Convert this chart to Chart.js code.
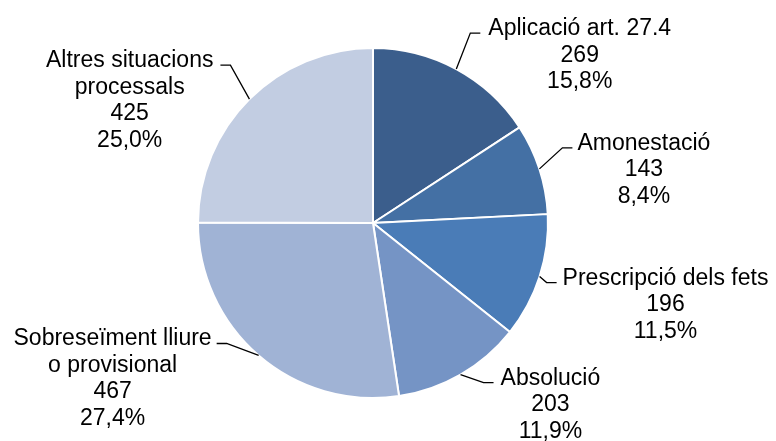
<!DOCTYPE html>
<html>
<head>
<meta charset="utf-8">
<script src="https://cdn.jsdelivr.net/npm/chart.js@4.4.1/dist/chart.umd.min.js"></script>
<style>
  html, body { margin: 0; padding: 0; background: #ffffff; }
  #wrap { width: 776px; height: 441px; position: relative; }
</style>
</head>
<body>
<div id="wrap"><canvas id="c" width="776" height="441"></canvas></div>
<script>
// ---- Data ----
const categories = [
  "Aplicació art. 27.4",
  "Amonestació",
  "Prescripció dels fets",
  "Absolució",
  "Sobreseïment lliure\no provisional",
  "Altres situacions\nprocessals"
];
const values = [269, 143, 196, 203, 467, 425];

// ---- Styles / layout (not data) ----
const sliceColors = ['#3b5e8c', '#4470a4', '#4a7cb7', '#7594c5', '#a0b3d5', '#c2cde2'];
// leader elbow offset from the arc anchor, and side of label
const leaderLayout = [
  { dx: 14, dy: -36, side: 1, gap: 8 },
  { dx: 23, dy: -21, side: 1, gap: 5 },
  { dx: 7,  dy: 6,   side: 1, gap: 6 },
  { dx: 23, dy: 8,   side: 1, gap: 7 },
  { dx: -32, dy: -12, side: -1, gap: 5 },
  { dx: -19, dy: -34, side: -1, gap: 7 }
];
const FONT = '23px "Liberation Sans", Arial, sans-serif';
const LINE_H = 26.5;

const total = values.reduce((a, b) => a + b, 0);

const labelPlugin = {
  id: 'outLabels',
  afterDraw(chart) {
    const ctx = chart.ctx;
    const meta = chart.getDatasetMeta(0);
    ctx.save();
    ctx.font = FONT;
    ctx.fillStyle = '#000';
    ctx.strokeStyle = '#000';
    ctx.lineWidth = 1.3;
    meta.data.forEach((arc, i) => {
      const p = arc.getProps(['x', 'y', 'startAngle', 'endAngle', 'outerRadius'], true);
      const mid = (p.startAngle + p.endAngle) / 2;
      const ax = p.x + Math.cos(mid) * p.outerRadius;
      const ay = p.y + Math.sin(mid) * p.outerRadius;
      const L = leaderLayout[i];
      const ex = ax + L.dx, ey = ay + L.dy;
      const hx = ex + 10 * L.side;
      ctx.beginPath();
      ctx.moveTo(ax, ay);
      ctx.lineTo(ex, ey);
      ctx.lineTo(hx, ey);
      ctx.stroke();

      const v = values[i];
      const pct = (v / total * 100).toFixed(1).replace('.', ',') + '%';
      const lines = categories[i].split('\n').concat([String(v), pct]);
      const widest = Math.max(...lines.map(t => ctx.measureText(t).width));
      const cx = hx + L.side * (L.gap + widest / 2);
      ctx.textAlign = 'center';
      ctx.textBaseline = 'alphabetic';
      lines.forEach((t, k) => {
        ctx.fillText(t, cx, ey + 2 + k * LINE_H);
      });
    });
    ctx.restore();
  }
};

new Chart(document.getElementById('c'), {
  type: 'pie',
  data: {
    labels: categories,
    datasets: [{
      data: values,
      backgroundColor: sliceColors,
      borderColor: '#ffffff',
      borderWidth: 2
    }]
  },
  options: {
    responsive: false,
    animation: false,
    radius: 175,
    layout: { padding: { left: 0, right: 30, top: 5, bottom: 0 } },
    plugins: {
      legend: { display: false },
      tooltip: { enabled: false }
    }
  },
  plugins: [labelPlugin]
});
</script>
</body>
</html>
